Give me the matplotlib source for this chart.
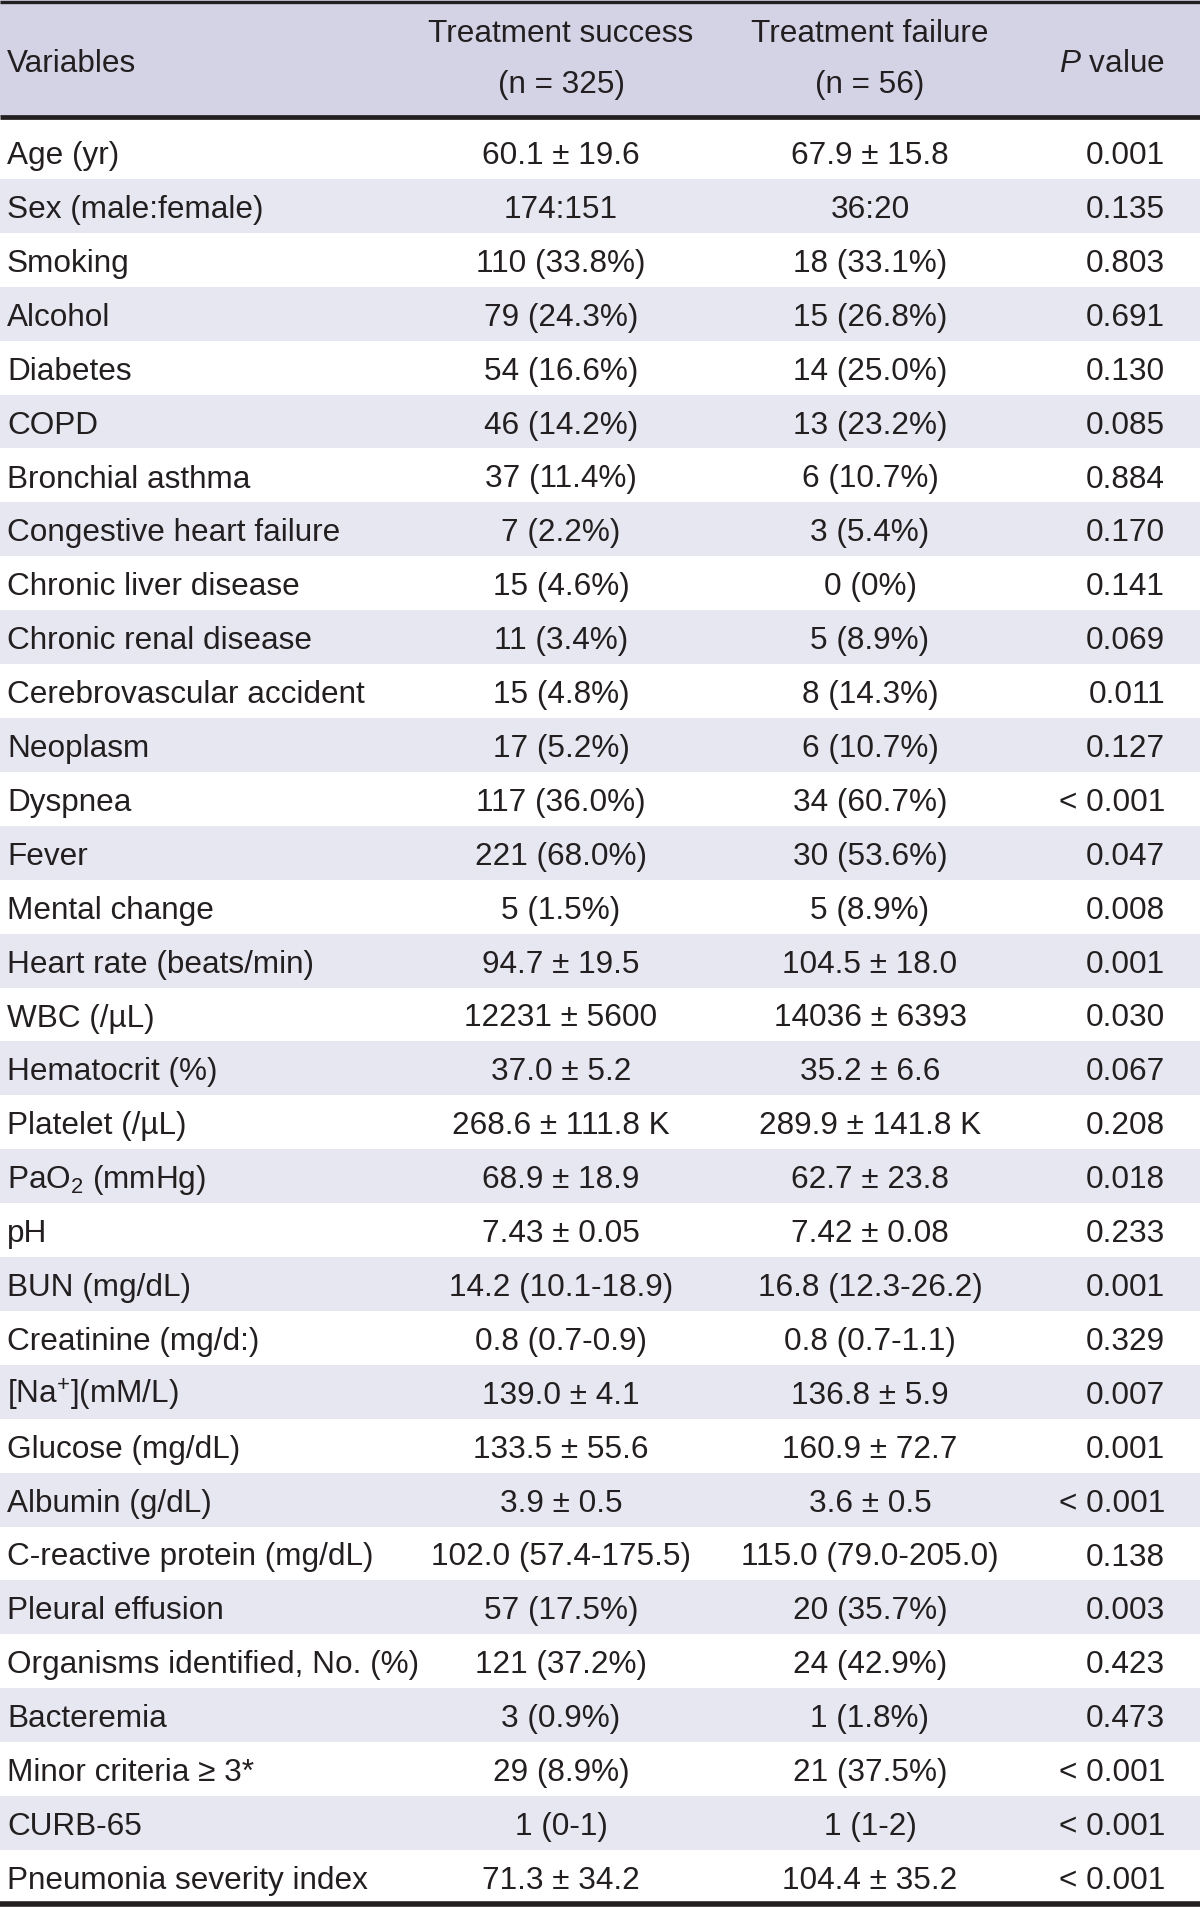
import matplotlib.pyplot as plt
from matplotlib.patches import Rectangle

plt.rcParams['font.family'] = ['Liberation Sans', 'DejaVu Sans']
plt.rcParams['mathtext.fontset'] = 'custom'
plt.rcParams['mathtext.rm'] = 'Liberation Sans'
plt.rcParams['mathtext.it'] = 'Liberation Sans:italic'

# Table content
col_headers = ["Variables", "Treatment success\n(n = 325)", "Treatment failure\n(n = 56)", "$P$ value"]

variables = [
    "Age (yr)", "Sex (male:female)", "Smoking", "Alcohol", "Diabetes", "COPD",
    "Bronchial asthma", "Congestive heart failure", "Chronic liver disease",
    "Chronic renal disease", "Cerebrovascular accident", "Neoplasm", "Dyspnea",
    "Fever", "Mental change", "Heart rate (beats/min)", "WBC (/\u00b5L)",
    "Hematocrit (%)", "Platelet (/\u00b5L)", "PaO$_2$ (mmHg)", "pH", "BUN (mg/dL)",
    "Creatinine (mg/d:)", "[Na$^{+}$](mM/L)", "Glucose (mg/dL)", "Albumin (g/dL)",
    "C-reactive protein (mg/dL)", "Pleural effusion", "Organisms identified, No. (%)",
    "Bacteremia", "Minor criteria \u2265 3*", "CURB-65", "Pneumonia severity index",
]

success = [
    "60.1 \u00b1 19.6", "174:151", "110 (33.8%)", "79 (24.3%)", "54 (16.6%)",
    "46 (14.2%)", "37 (11.4%)", "7 (2.2%)", "15 (4.6%)", "11 (3.4%)", "15 (4.8%)",
    "17 (5.2%)", "117 (36.0%)", "221 (68.0%)", "5 (1.5%)", "94.7 \u00b1 19.5",
    "12231 \u00b1 5600", "37.0 \u00b1 5.2", "268.6 \u00b1 111.8 K", "68.9 \u00b1 18.9",
    "7.43 \u00b1 0.05", "14.2 (10.1-18.9)", "0.8 (0.7-0.9)", "139.0 \u00b1 4.1",
    "133.5 \u00b1 55.6", "3.9 \u00b1 0.5", "102.0 (57.4-175.5)", "57 (17.5%)",
    "121 (37.2%)", "3 (0.9%)", "29 (8.9%)", "1 (0-1)", "71.3 \u00b1 34.2",
]

failure = [
    "67.9 \u00b1 15.8", "36:20", "18 (33.1%)", "15 (26.8%)", "14 (25.0%)",
    "13 (23.2%)", "6 (10.7%)", "3 (5.4%)", "0 (0%)", "5 (8.9%)", "8 (14.3%)",
    "6 (10.7%)", "34 (60.7%)", "30 (53.6%)", "5 (8.9%)", "104.5 \u00b1 18.0",
    "14036 \u00b1 6393", "35.2 \u00b1 6.6", "289.9 \u00b1 141.8 K", "62.7 \u00b1 23.8",
    "7.42 \u00b1 0.08", "16.8 (12.3-26.2)", "0.8 (0.7-1.1)", "136.8 \u00b1 5.9",
    "160.9 \u00b1 72.7", "3.6 \u00b1 0.5", "115.0 (79.0-205.0)", "20 (35.7%)",
    "24 (42.9%)", "1 (1.8%)", "21 (37.5%)", "1 (1-2)", "104.4 \u00b1 35.2",
]

p_values = [
    "0.001", "0.135", "0.803", "0.691", "0.130", "0.085", "0.884", "0.170",
    "0.141", "0.069", "0.011", "0.127", "< 0.001", "0.047", "0.008", "0.001",
    "0.030", "0.067", "0.208", "0.018", "0.233", "0.001", "0.329", "0.007",
    "0.001", "< 0.001", "0.138", "0.003", "0.423", "0.473", "< 0.001",
    "< 0.001", "< 0.001",
]

# Layout (pixel units)
W, H = 1200, 1913
header_line = 116.7
second_row_top = 179
row_h = 53.9
text_color = "#231f20"
header_bg = "#d4d3e6"
stripe_bg = "#e7e7f1"
fs = 22.7

fig = plt.figure(figsize=(W / 100, H / 100), dpi=100)
ax = fig.add_axes([0, 0, 1, 1])
ax.set_xlim(0, W)
ax.set_ylim(H, 0)
ax.axis("off")


def row_top(i):
    # first row has extra padding above; the rest are evenly spaced
    return second_row_top + (i - 1) * row_h


# header background
ax.add_patch(Rectangle((0, 0), W, header_line, color=header_bg, lw=0))

# striped rows
for i in range(1, len(variables)):
    if i % 2 == 1:
        ax.add_patch(Rectangle((0, row_top(i)), W, row_h, color=stripe_bg, lw=0))

# rules
bottom = row_top(len(variables))
ax.plot([0, W], [1.6, 1.6], color=text_color, lw=2.4, solid_capstyle="butt")
ax.plot([0, W], [header_line, header_line], color=text_color, lw=3.4, solid_capstyle="butt")
ax.plot([0, W], [bottom, bottom], color=text_color, lw=4.0, solid_capstyle="butt")

# header text
ax.text(7, 72, col_headers[0], fontsize=fs, color=text_color, ha="left", va="baseline")
for xc, lbl in [(561, col_headers[1]), (870, col_headers[2])]:
    l1, l2 = lbl.split("\n")
    ax.text(xc, 42.5, l1, fontsize=fs, color=text_color, ha="center", va="baseline")
    ax.text(xc, 93, l2, fontsize=fs, color=text_color, ha="center", va="baseline")
ax.text(1165, 72, col_headers[3], fontsize=fs, color=text_color, ha="right", va="baseline")

# body text
for i in range(len(variables)):
    base = row_top(i) + 39
    ax.text(7, base, variables[i], fontsize=fs, color=text_color, ha="left", va="baseline")
    ax.text(561, base, success[i], fontsize=fs, color=text_color, ha="center", va="baseline")
    ax.text(870, base, failure[i], fontsize=fs, color=text_color, ha="center", va="baseline")
    ax.text(1165, base, p_values[i], fontsize=fs, color=text_color, ha="right", va="baseline")

fig.savefig("out.png", dpi=100, facecolor="white")
